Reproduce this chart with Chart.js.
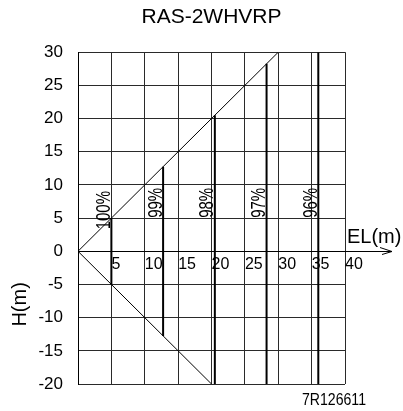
<!DOCTYPE html>
<html>
<head>
<meta charset="utf-8">
<script src="https://cdn.jsdelivr.net/npm/chart.js@4"></script>
<style>
  html, body { margin: 0; padding: 0; background: #fff; }
  #caja { width: 403px; height: 411px; }
</style>
</head>
<body>
<div id="caja"><canvas id="grafico"></canvas></div>
<script>
// ticks de los ejes (EL en x, H en y)
const ticksEL = [0, 5, 10, 15, 20, 25, 30, 35, 40];
const ticksH = [-20, -15, -10, -5, 0, 5, 10, 15, 20, 25, 30];

// limites de la zona (diagonales)
const limiteSuperior = [{x: 0, y: 0}, {x: 30, y: 30}];
const limiteInferior = [{x: 0, y: 0}, {x: 20, y: -20}];

// lineas de rendimiento: posicion en EL, extremo superior e inferior en H
const rendEL = [5, 12.75, 20.5, 28.25, 36];
const rendArriba = [5, 12.75, 20.5, 28.25, 30];
const rendAbajo = [-5, -12.75, -20, -20, -20];
const rendEtiquetas = ['100%', '99%', '98%', '97%', '96%'];

const FUENTE = '"Liberation Sans", Arial, sans-serif';
Chart.defaults.font.family = FUENTE;
Chart.defaults.color = '#000';

const datasets = [
  { data: limiteSuperior, borderWidth: 1 },
  { data: limiteInferior, borderWidth: 1 }
];
rendEL.forEach((el, i) => {
  datasets.push({
    data: [{x: el, y: rendArriba[i]}, {x: el, y: rendAbajo[i]}],
    borderWidth: 2
  });
});
datasets.forEach(d => {
  d.borderColor = '#000';
  d.pointRadius = 0;
  d.tension = 0;
  d.fill = false;
});

// texto estrecho (escala horizontal) con rotacion opcional
const textoEstrecho = (ctx, txt, x, y, escala, angulo) => {
  ctx.save();
  ctx.translate(x, y);
  if (angulo) ctx.rotate(angulo);
  ctx.scale(escala, 1);
  ctx.fillText(txt, 0, 0);
  ctx.restore();
};

const extras = {
  id: 'extras',
  afterDraw(chart) {
    const {ctx, chartArea: a, scales: {x, y}} = chart;
    const y0 = Math.round(y.getPixelForValue(0)) + 0.5;
    ctx.save();
    ctx.strokeStyle = '#000';
    ctx.fillStyle = '#000';
    ctx.lineWidth = 1;
    // prolongacion del eje EL con flecha
    ctx.beginPath();
    ctx.moveTo(a.right, y0);
    ctx.lineTo(a.right + 47, y0);
    ctx.moveTo(a.right + 35, y0 - 4);
    ctx.lineTo(a.right + 47, y0);
    ctx.lineTo(a.right + 37, y0 + 3);
    ctx.stroke();

    ctx.font = '20px ' + FUENTE;
    ctx.textAlign = 'left';
    ctx.textBaseline = 'alphabetic';
    ctx.fillText('EL(m)', a.right + 2, y0 - 9);

    ctx.textAlign = 'center';
    ctx.textBaseline = 'middle';
    textoEstrecho(ctx, 'H(m)', 20, y.getPixelForValue(-8), 1, -Math.PI / 2);

    // etiquetas de rendimiento
    ctx.textBaseline = 'alphabetic';
    rendEtiquetas.forEach((t, i) => {
      const yy = y.getPixelForValue(i === 0 ? 6.2 : 7.3);
      textoEstrecho(ctx, t, x.getPixelForValue(rendEL[i]) - 1.5, yy, 0.75, -Math.PI / 2);
    });

    ctx.font = '17px ' + FUENTE;
    ctx.textAlign = 'right';
    textoEstrecho(ctx, '7R126611', a.right + 21, a.bottom + 21, 0.83, 0);
    ctx.restore();
  }
};

new Chart(document.getElementById('grafico'), {
  type: 'line',
  data: { datasets },
  options: {
    responsive: true,
    maintainAspectRatio: false,
    animation: false,
    layout: { padding: { left: 0, right: 58, top: 0, bottom: 27 } },
    plugins: {
      legend: { display: false },
      tooltip: { enabled: false },
      title: {
        display: true,
        fullSize: false,
        text: 'RAS-2WHVRP',
        color: '#000',
        font: { size: 21, weight: 'normal' },
        padding: { top: 5, bottom: 22 }
      }
    },
    scales: {
      x: {
        type: 'linear',
        position: { y: 0 },
        min: 0,
        max: 40,
        afterBuildTicks: s => { s.ticks = ticksEL.map(v => ({value: v})); },
        grid: { color: '#2a2a2a', lineWidth: 1, drawTicks: false },
        border: { display: true, color: '#000', width: 1 },
        ticks: {
          align: 'start',
          padding: 4,
          color: '#000',
          font: { size: 16 },
          callback: v => (v === 0 ? '' : v)
        }
      },
      y: {
        type: 'linear',
        min: -20,
        max: 30,
        afterBuildTicks: s => { s.ticks = ticksH.map(v => ({value: v})); },
        afterFit: s => { s.width = 78; },
        grid: { color: '#2a2a2a', lineWidth: 1, drawTicks: false },
        border: { display: true, color: '#000', width: 1 },
        ticks: { padding: 15, color: '#000', font: { size: 17 } }
      }
    }
  },
  plugins: [extras]
});
</script>
</body>
</html>
